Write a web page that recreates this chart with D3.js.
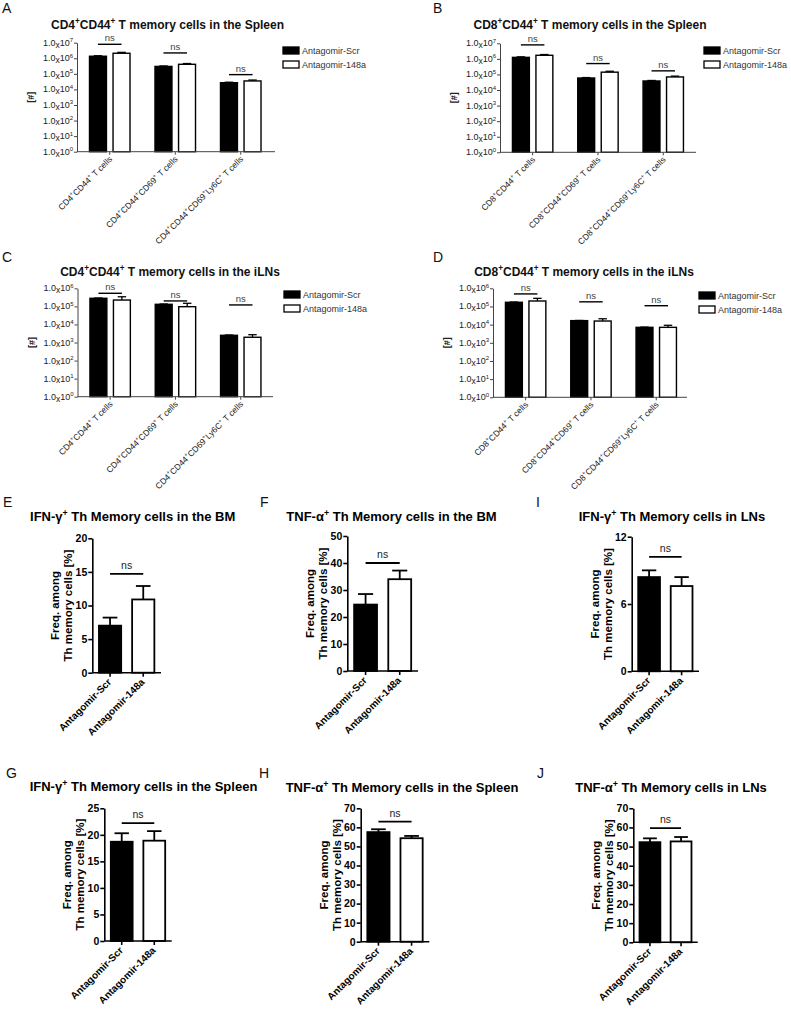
<!DOCTYPE html>
<html><head><meta charset="utf-8">
<script src="https://cdn.jsdelivr.net/npm/d3@7"></script>
<style>body{margin:0;background:#fff}svg{display:block;font-family:"Liberation Sans",Arial,sans-serif}</style>
</head><body>
<script>
// ---------- DATA ----------
const seriesNames = ["Antagomir-Scr", "Antagomir-148a"];
const catsCD4 = ["CD4^+CD44^+ T cells", "CD4^+CD44^+CD69^+ T cells", "CD4^+CD44^+CD69^+Ly6C^+ T cells"];
const catsCD8 = ["CD8^+CD44^+ T cells", "CD8^+CD44^+CD69^+ T cells", "CD8^+CD44^+CD69^+Ly6C^+ T cells"];

// A: CD4 spleen
const aScr = [1.35e6, 3.0e5, 2.7e4];
const aScrErr = [1.45e6, 3.2e5, 2.9e4];
const a148 = [2.1e6, 4.1e5, 3.5e4];
const a148Err = [2.4e6, 4.6e5, 4.0e4];
const aNs = [7.9e6, 2.2e6, 8.9e4];
// B: CD8 spleen
const bScr = [1.25e6, 5.9e4, 3.8e4];
const bScrErr = [1.35e6, 6.3e4, 4.1e4];
const b148 = [1.7e6, 1.4e5, 6.9e4];
const b148Err = [1.9e6, 1.6e5, 7.8e4];
const bNs = [7.9e6, 5.0e5, 1.7e5];
// C: CD4 iLNs
const cScr = [2.8e5, 1.3e5, 2.5e3];
const cScrErr = [2.9e5, 1.35e5, 2.6e3];
const c148 = [2.24e5, 9.6e4, 1.95e3];
const c148Err = [3.4e5, 1.48e5, 2.7e3];
const cNs = [5.3e5, 2.0e5, 1.2e5];
// D: CD8 iLNs
const dScr = [1.7e5, 1.66e4, 7.1e3];
const dScrErr = [1.75e5, 1.7e4, 7.3e3];
const d148 = [2.0e5, 1.58e4, 7.1e3];
const d148Err = [2.8e5, 2.1e4, 9.2e3];
const dNs = [4.9e5, 1.8e5, 1.1e5];

// Frequencies (%): [Antagomir-Scr, Antagomir-148a]
const eMean = [7.0, 10.9],  eErr = [8.2, 12.9],  eNs = 14.7;
const fMean = [24.6, 34.0], fErr = [28.5, 37.2], fNs = 40.0;
const iMean = [8.4, 7.6],   iErr = [9.0, 8.4],   iNs = 10.2;
const gMean = [18.7, 18.9], gErr = [20.3, 20.7], gNs = 22.2;
const hMean = [57.5, 54.3], hErr = [59.0, 55.5], hNs = 63.0;
const jMean = [52.3, 52.7], jErr = [54.3, 55.0], jNs = 59.6;

const eTicks = [0, 5, 10, 15, 20];
const fTicks = [0, 10, 20, 30, 40, 50];
const iTicks = [0, 6, 12];
const gTicks = [0, 5, 10, 15, 20, 25];
const hTicks = [0, 10, 20, 30, 40, 50, 60, 70];
const jTicks = [0, 10, 20, 30, 40, 50, 60, 70];
const logExps7 = [0, 1, 2, 3, 4, 5, 6, 7];
const logExps6 = [0, 1, 2, 3, 4, 5, 6];

// ---------- DRAW ----------
const W = 791, H = 1013;
const svg = d3.select("body").append("svg").attr("width", W).attr("height", H);

function rich(t, str, size, supScale = 0.68, supShift = 0.42) {
  const parts = str.split("^+");
  parts.forEach((p, i) => {
    if (i > 0) {
      t.append("tspan").attr("font-size", size * supScale).attr("dy", -size * supShift).text("+");
      t.append("tspan").attr("dy", size * supShift).text(p);
    } else t.append("tspan").text(p);
  });
}

function letter(txt, x, y) {
  svg.append("text").attr("x", x).attr("y", y).attr("font-size", 14).attr("fill", "#111").text(txt);
}

function logPanel(o) {
  const g = svg.append("g");
  const y = d3.scaleLog().domain([1, Math.pow(10, o.exps[o.exps.length - 1])]).range([o.yBot, o.yTop]);
  const x = d3.scaleBand().domain(o.cats).range([o.x0, o.x0 + 3 * o.step]).padding(0);
  const xs = d3.scaleBand().domain(seriesNames).range([0, x.bandwidth()]).paddingInner(0.28).paddingOuter(0.53);
  const series = [
    {name: seriesNames[0], v: o.scr, e: o.scrErr, fill: "#000"},
    {name: seriesNames[1], v: o.m148, e: o.m148Err, fill: "#fff"}
  ];
  // title
  const tt = g.append("text").attr("x", o.titleX).attr("y", o.titleY).attr("text-anchor", "middle")
    .attr("font-size", 12).attr("font-weight", "bold").attr("fill", "#111");
  rich(tt, o.title, 12);
  // bars
  series.forEach(s => {
    o.cats.forEach((c, i) => {
      const bx = x(c) + xs(s.name), bw = xs.bandwidth(), cx = bx + bw / 2;
      g.append("line").attr("x1", cx).attr("x2", cx).attr("y1", y(s.v[i])).attr("y2", y(s.e[i]))
        .attr("stroke", "#000").attr("stroke-width", 1.3);
      g.append("line").attr("x1", cx - bw * 0.25).attr("x2", cx + bw * 0.25).attr("y1", y(s.e[i])).attr("y2", y(s.e[i]))
        .attr("stroke", "#000").attr("stroke-width", 1.3);
      g.append("rect").attr("x", bx).attr("y", y(s.v[i])).attr("width", bw).attr("height", o.yBot - y(s.v[i]))
        .attr("fill", s.fill).attr("stroke", "#000").attr("stroke-width", 1.4);
    });
  });
  // ns
  o.cats.forEach((c, i) => {
    const x1 = x(c) + xs(seriesNames[0]) + xs.bandwidth() / 2;
    const x2 = x(c) + xs(seriesNames[1]) + xs.bandwidth() / 2;
    const ly = y(o.ns[i]);
    g.append("line").attr("x1", x1).attr("x2", x2).attr("y1", ly).attr("y2", ly).attr("stroke", "#000").attr("stroke-width", 1.4);
    g.append("text").attr("x", (x1 + x2) / 2).attr("y", ly - 3).attr("text-anchor", "middle")
      .attr("font-size", 9.5).attr("fill", "#444").text("ns");
  });
  // y axis
  const ya = g.append("g").attr("transform", `translate(${o.x0},0)`)
    .call(d3.axisLeft(y).tickValues(o.exps.map(k => Math.pow(10, k))).tickSize(3).tickSizeOuter(0).tickFormat(""));
  ya.selectAll("path,line").attr("stroke", "#444");
  o.exps.forEach(k => {
    const t = g.append("text").attr("x", o.x0 - 4).attr("y", y(Math.pow(10, k)) + 3).attr("text-anchor", "end")
      .attr("font-size", 9).attr("fill", "#222");
    t.append("tspan").text("1.0");
    t.append("tspan").attr("dy", 1.8).attr("font-size", 8.5).text("x");
    t.append("tspan").attr("dy", -1.8).text("10");
    t.append("tspan").attr("dy", -3.5).attr("font-size", 6).text(k);
  });
  // x axis
  const xa = g.append("g").attr("transform", `translate(0,${o.yBot})`)
    .call(d3.axisBottom(x).tickSize(3).tickSizeOuter(0).tickFormat(""));
  xa.select(".domain").attr("d", `M${o.x0},0H${o.x1}`);
  xa.selectAll("path,line").attr("stroke", "#444");
  o.cats.forEach(c => {
    const cx = x(c) + x.bandwidth() / 2;
    const t = g.append("text").attr("transform", `translate(${cx + 3},${o.yBot + 8}) rotate(-45)`)
      .attr("text-anchor", "end").attr("font-size", 8.5).attr("fill", "#222");
    rich(t, c, 8.5);
  });
  // y label
  g.append("text").attr("transform", `translate(${o.x0 - 43},${(o.yTop + o.yBot) / 2}) rotate(-90)`)
    .attr("text-anchor", "middle").attr("font-size", 9).attr("font-weight", "bold").attr("fill", "#222").text("[#]");
  // legend
  series.forEach((s, i) => {
    g.append("rect").attr("x", o.legX).attr("y", o.legY + i * 14).attr("width", 16).attr("height", 7)
      .attr("fill", s.fill).attr("stroke", "#000").attr("stroke-width", 1.3);
    g.append("text").attr("x", o.legX + 19).attr("y", o.legY + i * 14 + 7).attr("font-size", 9).attr("fill", "#333").text(s.name);
  });
}

function freqPanel(o) {
  const g = svg.append("g");
  const y = d3.scaleLinear().domain([0, o.ticks[o.ticks.length - 1]]).range([o.yBot, o.yTop]);
  const x = d3.scaleBand().domain(seriesNames).range([o.x0, o.x1]).paddingInner(0.33).paddingOuter(0.2);
  const tt = g.append("text").attr("x", o.titleX).attr("y", o.titleY).attr("text-anchor", "middle")
    .attr("font-size", 13).attr("font-weight", "bold").attr("fill", "#000");
  rich(tt, o.title, 13);
  const fills = ["#000", "#fff"];
  seriesNames.forEach((n, i) => {
    const bx = x(n), bw = x.bandwidth(), cx = bx + bw / 2;
    g.append("line").attr("x1", cx).attr("x2", cx).attr("y1", y(o.mean[i])).attr("y2", y(o.err[i]))
      .attr("stroke", "#000").attr("stroke-width", 1.8);
    g.append("line").attr("x1", cx - bw * 0.33).attr("x2", cx + bw * 0.33).attr("y1", y(o.err[i])).attr("y2", y(o.err[i]))
      .attr("stroke", "#000").attr("stroke-width", 1.8);
    g.append("rect").attr("x", bx).attr("y", y(o.mean[i])).attr("width", bw).attr("height", o.yBot - y(o.mean[i]))
      .attr("fill", fills[i]).attr("stroke", "#000").attr("stroke-width", 1.8);
  });
  // ns
  const x1 = x(seriesNames[0]) + x.bandwidth() / 2, x2 = x(seriesNames[1]) + x.bandwidth() / 2, ly = y(o.ns);
  g.append("line").attr("x1", x1).attr("x2", x2).attr("y1", ly).attr("y2", ly).attr("stroke", "#000").attr("stroke-width", 1.8);
  g.append("text").attr("x", (x1 + x2) / 2).attr("y", ly - 5).attr("text-anchor", "middle")
    .attr("font-size", 10.5).attr("fill", "#222").text("ns");
  // y axis
  const ya = g.append("g").attr("transform", `translate(${o.x0},0)`)
    .call(d3.axisLeft(y).tickValues(o.ticks).tickSize(4).tickSizeOuter(0).tickPadding(1));
  ya.selectAll("path,line").attr("stroke", "#000").attr("stroke-width", 1.6);
  ya.selectAll("text").attr("font-size", 10.5).attr("font-weight", "bold").attr("fill", "#000")
    .attr("font-family", "Liberation Sans, Arial, sans-serif");
  // x axis
  const xa = g.append("g").attr("transform", `translate(0,${o.yBot})`)
    .call(d3.axisBottom(x).tickSize(4).tickSizeOuter(0).tickFormat(""));
  xa.select(".domain").attr("d", `M${o.x0},0H${o.x1}`);
  xa.selectAll("path,line").attr("stroke", "#000").attr("stroke-width", 1.6);
  seriesNames.forEach(n => {
    const cx = x(n) + x.bandwidth() / 2;
    g.append("text").attr("transform", `translate(${cx + 2},${o.yBot + 10}) rotate(-45)`)
      .attr("text-anchor", "end").attr("font-size", 10).attr("font-weight", "bold").attr("fill", "#000").text(n);
  });
  // y label
  const cy = (o.yTop + o.yBot) / 2;
  g.append("text").attr("transform", `translate(${o.x0 - 33},${cy}) rotate(-90)`)
    .attr("text-anchor", "middle").attr("font-size", 11.5).attr("font-weight", "bold").attr("fill", "#000").text("Freq. among");
  g.append("text").attr("transform", `translate(${o.x0 - 20},${cy}) rotate(-90)`)
    .attr("text-anchor", "middle").attr("font-size", 11.5).attr("font-weight", "bold").attr("fill", "#000").text("Th memory cells [%]");
}

logPanel({cats: catsCD4, scr: aScr, scrErr: aScrErr, m148: a148, m148Err: a148Err, ns: aNs, exps: logExps7,
  x0: 77, x1: 275, step: 65.5, yTop: 42.7, yBot: 151.7, title: "CD4^+CD44^+ T memory cells in the Spleen",
  titleX: 167.5, titleY: 29, legX: 283, legY: 47});
logPanel({cats: catsCD8, scr: bScr, scrErr: bScrErr, m148: b148, m148Err: b148Err, ns: bNs, exps: logExps7,
  x0: 500, x1: 696, step: 65.3, yTop: 43.3, yBot: 152.3, title: "CD8^+CD44^+ T memory cells in the Spleen",
  titleX: 590, titleY: 29, legX: 704, legY: 47});
logPanel({cats: catsCD4, scr: cScr, scrErr: cScrErr, m148: c148, m148Err: c148Err, ns: cNs, exps: logExps6,
  x0: 77.5, x1: 273, step: 65.3, yTop: 288.3, yBot: 396.7, title: "CD4^+CD44^+ T memory cells in the iLNs",
  titleX: 170, titleY: 276, legX: 284, legY: 291});
logPanel({cats: catsCD8, scr: dScr, scrErr: dScrErr, m148: d148, m148Err: d148Err, ns: dNs, exps: logExps6,
  x0: 493, x1: 687, step: 65.3, yTop: 288.3, yBot: 397.3, title: "CD8^+CD44^+ T memory cells in the iLNs",
  titleX: 584, titleY: 276, legX: 699, legY: 292});

freqPanel({mean: eMean, err: eErr, ns: eNs, ticks: eTicks, x0: 92.3, x1: 161, yTop: 538.3, yBot: 672.7,
  title: "IFN-γ^+ Th Memory cells in the BM", titleX: 132.7, titleY: 521});
freqPanel({mean: fMean, err: fErr, ns: fNs, ticks: fTicks, x0: 347.3, x1: 418, yTop: 536, yBot: 671,
  title: "TNF-α^+ Th Memory cells in the BM", titleX: 391.5, titleY: 521});
freqPanel({mean: iMean, err: iErr, ns: iNs, ticks: iTicks, x0: 631.7, x1: 699, yTop: 536.7, yBot: 671.3,
  title: "IFN-γ^+ Th Memory cells in LNs", titleX: 672, titleY: 521});
freqPanel({mean: gMean, err: gErr, ns: gNs, ticks: gTicks, x0: 104.3, x1: 171.7, yTop: 808.3, yBot: 941,
  title: "IFN-γ^+ Th Memory cells in the Spleen", titleX: 143.5, titleY: 791});
freqPanel({mean: hMean, err: hErr, ns: hNs, ticks: hTicks, x0: 360.7, x1: 429.3, yTop: 808.3, yBot: 941.7,
  title: "TNF-α^+ Th Memory cells in the Spleen", titleX: 402, titleY: 792});
freqPanel({mean: jMean, err: jErr, ns: jNs, ticks: jTicks, x0: 633.3, x1: 697.7, yTop: 808.3, yBot: 942.3,
  title: "TNF-α^+ Th Memory cells in LNs", titleX: 671, titleY: 792});

letter("A", 2, 13); letter("B", 433, 13);
letter("C", 2, 262); letter("D", 433, 262);
letter("E", 3, 507); letter("F", 260, 507); letter("I", 536, 507);
letter("G", 6, 778); letter("H", 259, 778); letter("J", 537, 778);
</script>
</body></html>
